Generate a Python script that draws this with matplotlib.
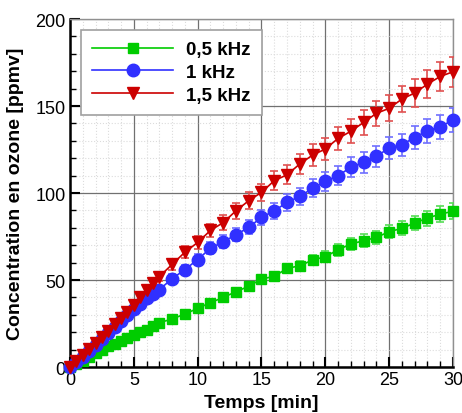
import matplotlib
matplotlib.use("Agg")
import matplotlib.pyplot as plt
from matplotlib.ticker import MultipleLocator

plt.rcParams['font.family'] = ['Liberation Sans', 'DejaVu Sans']

# time in minutes
temps = [0, 0.5, 1, 1.5, 2, 2.5, 3, 3.5, 4, 4.5, 5, 5.5, 6, 6.5, 7,
         8, 9, 10, 11, 12, 13, 14, 15, 16, 17, 18, 19, 20, 21, 22, 23,
         24, 25, 26, 27, 28, 29, 30]

# ozone concentration [ppmv]
c_05 = [0, 1.5, 3.5, 6, 8, 10, 12, 13.5, 15, 16.5, 18.5, 20, 21.5, 23.5, 25.5,
        27.6, 30.5, 33.7, 37, 40, 43.3, 46.4, 50.6, 52.1, 56.7, 58.2, 61.5, 63.4,
        67.4, 70.7, 72.6, 74.5, 77.8, 79.7, 82.8, 85.6, 87.9, 89.5]
c_1 = [0, 3, 6, 9, 12.5, 16, 19.5, 23, 26.5, 30, 33.5, 36.5, 39.5, 42, 44.5,
       50.8, 56, 61.8, 68.2, 72, 76, 80.3, 86, 89.8, 94.6, 98.1, 102.7, 106.7,
       110, 114.8, 117.6, 121.1, 125.9, 127.8, 131.9, 135.8, 138.1, 142]
c_15 = [0, 3.5, 7, 10.5, 14, 17.5, 21, 24.5, 28, 31.5, 35.5, 40, 44.5, 48.3, 52,
        59, 66, 71.6, 78.5, 83, 89.8, 95.6, 100.4, 107.1, 110.5, 116.7, 121.8,
        125.3, 131.4, 135.5, 140.6, 145.8, 148.7, 154, 157.5, 162.6, 167, 169.7]

# error bars [ppmv]
e_05 = [0, 0.1, 0.2, 0.3, 0.4, 0.5, 0.6, 0.7, 0.8, 0.8, 0.9, 1, 1.1, 1.2, 1.3,
        1.4, 1.5, 1.7, 1.9, 2, 2.2, 2.3, 2.5, 2.6, 2.8, 2.9, 3.1, 3.2, 3.4, 3.5,
        3.6, 3.7, 3.9, 4, 4.1, 4.3, 4.4, 4.5]
e_1 = [0, 0.2, 0.3, 0.5, 0.6, 0.8, 1, 1.2, 1.3, 1.5, 1.7, 1.8, 2, 2.1, 2.2,
       2.5, 2.8, 3.1, 3.4, 3.6, 3.8, 4, 4.3, 4.5, 4.7, 4.9, 5.1, 5.3, 5.5, 5.7,
       5.9, 6.1, 6.3, 6.4, 6.6, 6.8, 6.9, 7.1]
e_15 = [0, 0.2, 0.4, 0.5, 0.7, 0.9, 1.1, 1.2, 1.4, 1.6, 1.8, 2, 2.2, 2.4, 2.6,
        3, 3.3, 3.6, 3.9, 4.2, 4.5, 4.8, 5, 5.4, 5.5, 5.8, 6.1, 6.3, 6.6, 6.8,
        7, 7.3, 7.4, 7.7, 7.9, 8.1, 8.4, 8.5]

labels = ['0,5 kHz', '1 kHz', '1,5 kHz']
colors = ['#00cc00', '#3030ff', '#cc0000']
ecolors = ['#55dd55', '#7070ff', '#e05050']
markers = ['s', 'o', 'v']
msizes = [7.5, 9, 9]

fig = plt.figure(figsize=(4.62, 4.14), dpi=100)
ax = fig.add_axes([0.1515, 0.111, 0.829, 0.8406])

series = [c_05, c_1, c_15]
errs = [e_05, e_1, e_15]
for y, e, lab, c, ec, m, ms in zip(series, errs, labels, colors, ecolors, markers, msizes):
    ax.errorbar(temps, y, yerr=e, fmt='none', ecolor=ec, elinewidth=1.2,
                capsize=3, capthick=1.2, zorder=3)
    ax.plot(temps, y, color=c, marker=m, ms=ms, lw=1.2, label=lab,
            zorder=4, clip_on=False)

ax.set_xlim(0, 30)
ax.set_ylim(0, 200)
ax.xaxis.set_major_locator(MultipleLocator(5))
ax.xaxis.set_minor_locator(MultipleLocator(1))
ax.yaxis.set_major_locator(MultipleLocator(50))
ax.yaxis.set_minor_locator(MultipleLocator(10))

ax.grid(which='major', color='#707070', lw=0.9)
ax.grid(which='minor', color='#dcdcdc', lw=0.8, ls=':')
ax.set_axisbelow(True)

ax.tick_params(which='both', direction='in', top=False, right=False,
               labelsize=13, pad=3)
ax.tick_params(which='major', length=7, width=1.5)
ax.tick_params(which='minor', length=4, width=1)

for s in ['left', 'bottom']:
    ax.spines[s].set_linewidth(1.8)
    ax.spines[s].set_color('black')
for s in ['top', 'right']:
    ax.spines[s].set_linewidth(1)
    ax.spines[s].set_color('#909090')

ax.set_xlabel('Temps [min]', fontsize=14, fontweight='bold', labelpad=4)
ax.set_ylabel('Concentration en ozone [ppmv]', fontsize=14, fontweight='bold',
              labelpad=8)

leg = ax.legend(loc='upper left', bbox_to_anchor=(0.029, 0.969), fancybox=False,
                edgecolor='#a0a0a0', framealpha=1, handlelength=4.3,
                prop={'weight': 'bold', 'size': 13.5}, borderpad=0.6,
                labelspacing=0.3, handletextpad=0.7, borderaxespad=0)
leg.get_frame().set_linewidth(1.2)

fig.savefig('out.png', dpi=100)
